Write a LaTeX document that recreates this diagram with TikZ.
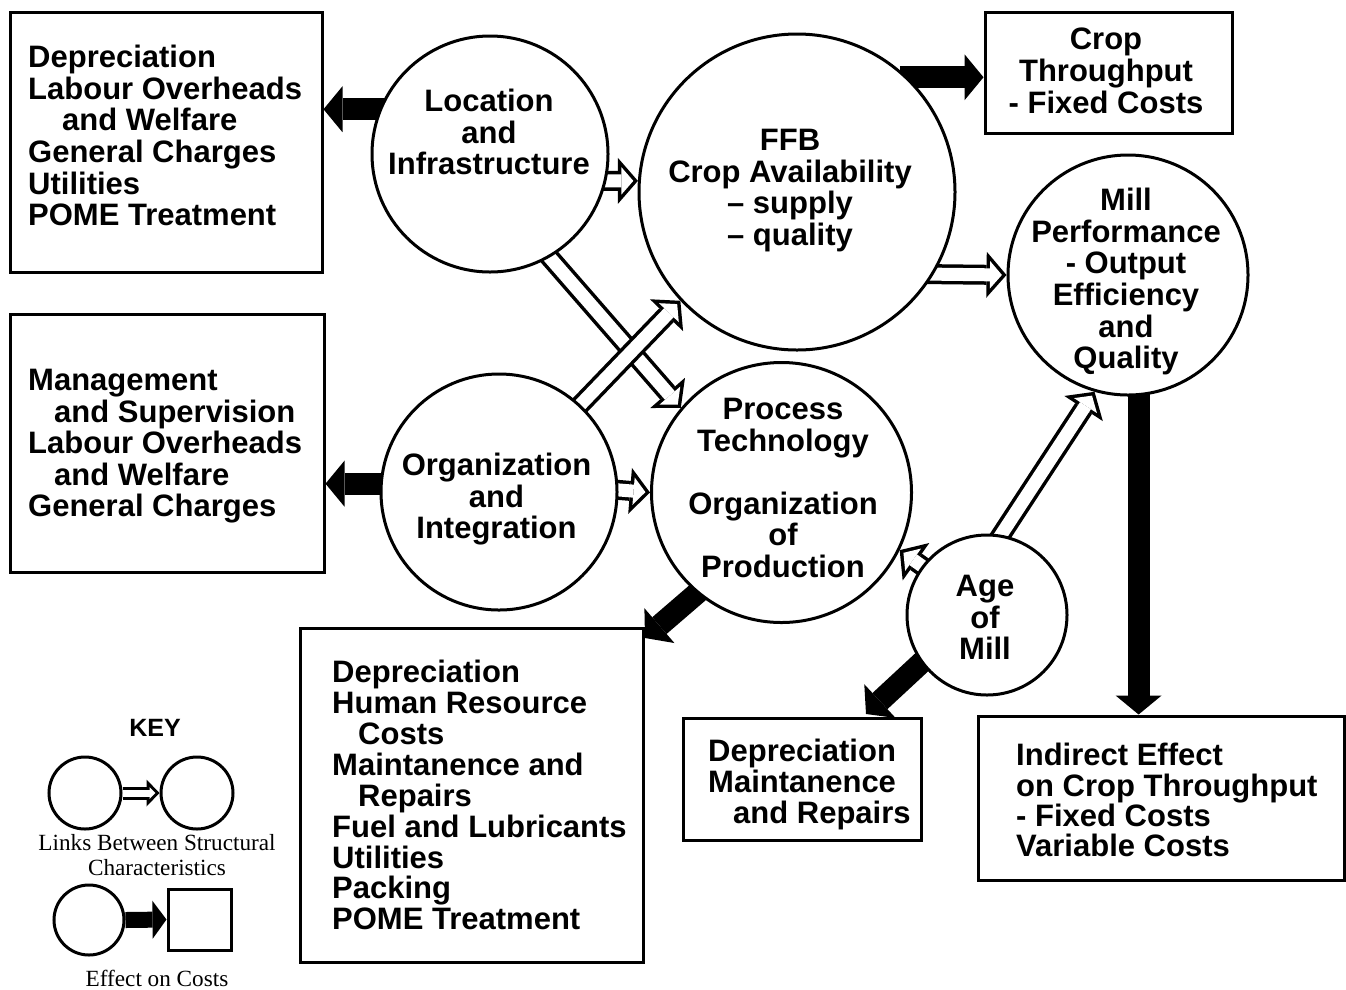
\documentclass[tikz,border=0pt]{standalone}
\usepackage{fontspec}
\usetikzlibrary{arrows.meta}
\newfontfamily\hvfam{Liberation Sans}
\newfontfamily\tmfam{Liberation Serif}
\newcommand\labfont{\hvfam\bfseries\fontsize{31pt}{31.6pt}\selectfont}
\newcommand\labfontb{\hvfam\bfseries\fontsize{31pt}{30.9pt}\selectfont}
\newcommand\labfontc{\hvfam\bfseries\fontsize{31pt}{30.4pt}\selectfont}
\newcommand\keyfont{\tmfam\fontsize{23.2pt}{25pt}\selectfont}
\pgfdeclarelayer{bg}
\pgfsetlayers{bg,main}
\begin{document}
\begin{tikzpicture}[x=1pt,y=-1pt,
  bub/.style={circle,draw,line width=3pt,fill=white,inner sep=0pt,minimum size=#1},
  cbox/.style 2 args={draw,line width=3pt,inner sep=0pt,minimum width=#1,minimum height=#2},
  ltxt/.style={font=\labfont,inner sep=0pt,align=left,anchor=north west},
  ctxt/.style={font=\labfont,inner sep=0pt,align=center,anchor=north},
  blk/.style={line width=22pt,-{Triangle[length=19pt,width=46pt,line width=0pt]},shorten <=-8pt},
  holo/.style={line width=20pt,-{Triangle[length=20pt,width=46pt,line width=0pt]},shorten <=-8pt},
  holi/.style={white,line width=13pt,-{Triangle[length=11.9pt,width=27.4pt,line width=0pt]},shorten >=4.6pt,shorten <=-8pt},
  kholo/.style={line width=13pt,-{Triangle[length=13pt,width=27pt,line width=0pt]}},
  kholi/.style={white,line width=7pt,-{Triangle[length=5.8pt,width=12pt,line width=0pt]},shorten >=4.2pt},
  kblk/.style={line width=16pt,-{Triangle[length=14pt,width=38pt,line width=0pt]}}
]
\useasboundingbox (0,0) rectangle (1346,989);

% boxes
\node[cbox={312pt}{260pt}] (tl) at (166,142) {};
\node[cbox={314pt}{258pt}] (ml) at (167,443) {};
\node[cbox={343pt}{334pt}] (bb) at (471.5,795) {};
\node[cbox={238pt}{122pt}] (dm) at (802,779) {};
\node[cbox={366pt}{164pt}] (ind) at (1161,798) {};
\node[cbox={247pt}{121pt}] (crop) at (1108.5,72.5) {};

% circles
\node[bub=236pt] (loc) at (490,154) {};
\node[bub=316pt] (ffb) at (797,192) {};
\node[bub=240pt] (mill) at (1128,275) {};
\node[bub=236pt] (org) at (499,492) {};
\node[bub=260pt] (proc) at (781.5,492.5) {};
\node[bub=160pt] (age) at (987,615) {};

% box texts
\node[ltxt] (tltx) at (28,45) {Depreciation\\Labour Overheads\\\hspace*{34pt}and Welfare\\General Charges\\Utilities\\POME Treatment};
\node[ltxt] (mltx) at (28,369) {Management\\\hspace*{26pt}and Supervision\\Labour Overheads\\\hspace*{26pt}and Welfare\\General Charges};
\node[ltxt,font=\labfontb] (bbtx) at (332,660) {Depreciation\\Human Resource\\\hspace*{26pt}Costs\\Maintanence and\\\hspace*{26pt}Repairs\\Fuel and Lubricants\\Utilities\\Packing\\POME Treatment};
\node[ltxt,font=\labfontb] (dmtx) at (708,739) {Depreciation\\Maintanence\\\hspace*{25pt}and Repairs};
\node[ltxt,font=\labfontc] (indtx) at (1016,743) {Indirect Effect\\on Crop Throughput\\- Fixed Costs\\Variable Costs};
\node[ctxt] (croptx) at (1106,28) {Crop\\Throughput\\- Fixed Costs};

% circle texts
\node[ctxt] (loctx) at (489,89) {Location\\and\\Infrastructure};
\node[ctxt] (ffbtx) at (790,129) {FFB\\Crop Availability\\– supply\\– quality};
\node[ctxt] (milltx) at (1126,188) {Mill\\Performance\\- Output\\Efficiency\\and\\Quality};
\node[ctxt] (orgtx) at (496.5,453) {Organization\\and\\Integration};
\node[ctxt] (proctx) at (783,398) {Process\\Technology\\[31.5pt]Organization\\of\\Production};
\node[ctxt] (agetx) at (985,575) {Age\\of\\Mill};

% key
\node[font=\hvfam\bfseries\fontsize{25pt}{27pt}\selectfont,inner sep=0pt] (keyt) at (155,728) {KEY};
\node[bub=72pt] (k1) at (85,793) {};
\node[bub=72pt] (k2) at (197,793) {};
\node[font=\keyfont,align=center,inner sep=0pt] (k1tx) at (157,855) {Links Between Structural\\Characteristics};
\node[bub=70pt] (k3) at (89,920) {};
\node[cbox={63pt}{61pt}] (k4) at (199.5,919.5) {};
\node[font=\keyfont,inner sep=0pt] (k2tx) at (157,978) {Effect on Costs};

\coordinate (bbtip) at (645,638);
\coordinate (dmtip) at (866,714);

\begin{pgfonlayer}{bg}
  % black arrows
  \draw[blk] (loc.158.5) -- (loc.158.5 -| tl.east);
  \draw[blk] (org.176.5) -- (org.176.5 -| ml.east);
  \draw[blk] (ffb.46.7) -- (ffb.46.7 -| crop.west);
  \draw[blk] (mill.-85.3) -- (mill.-85.3 |- ind.north);
  \draw[blk] (proc.-130) -- (bbtip);
  \draw[blk] (age.-144) -- (dmtip);
  % hollow arrows
  \draw[holo] (loc.-13) -- (ffb.176);
  \draw[holi] (loc.-13) -- (ffb.176);
  \draw[holo] (ffb.-31.4) -- (mill.180);
  \draw[holi] (ffb.-31.4) -- (mill.180);
  \draw[holo] (org.1) -- (proc.180);
  \draw[holi] (org.1) -- (proc.180);
  \draw[holo] (loc.-60) -- (proc.140);
  \draw[holi] (loc.-60) -- (proc.140);
  \draw[holo] (org.47.7) -- (ffb.-137.3);
  \draw[holi] (org.47.7) -- (ffb.-137.3);
  \draw[holo] (age.143) -- (proc.-26);
  \draw[holi] (age.143) -- (proc.-26);
  \draw[holo] (age.80) -- (mill.-106);
  \draw[holi] (age.80) -- (mill.-106);
  % key arrows
  \draw[kholo] (k1.east) -- (k2.west);
  \draw[kholi] (k1.east) -- (k2.west);
  \draw[kblk] (k3.east) -- (k4.west);
\end{pgfonlayer}
\end{tikzpicture}
\end{document}
